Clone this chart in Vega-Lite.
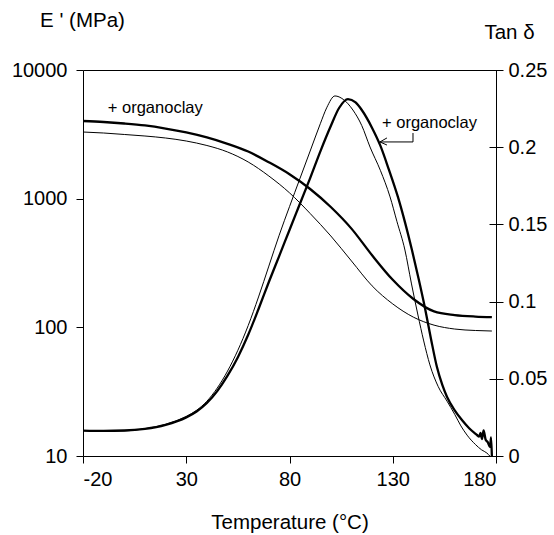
{
  "$schema": "https://vega.github.io/schema/vega-lite/v6.json",
  "autosize": {"type": "none"},
  "width": 413,
  "height": 386,
  "padding": {"left": 83, "top": 70, "right": 58, "bottom": 79},
  "background": "white",
  "config": {
    "font": "Liberation Sans",
    "view": {"stroke": "black", "strokeWidth": 1},
    "axis": {"grid": false, "domain": false, "tickColor": "black", "labelColor": "black", "titleColor": "black", "labelFont": "Liberation Sans", "titleFont": "Liberation Sans", "titleFontWeight": "normal", "labelFontSize": 20, "titleFontSize": 20.5}
  },
  "datasets": {
    "E": [
      {"s": "org", "T": -20, "v": 4014}, {"s": "org", "T": -10, "v": 3943}, {"s": "org", "T": 0, "v": 3839}, {"s": "org", "T": 10, "v": 3705}, {"s": "org", "T": 20, "v": 3508}, {"s": "org", "T": 30, "v": 3273}, {"s": "org", "T": 40, "v": 2992}, {"s": "org", "T": 50, "v": 2667}, {"s": "org", "T": 60, "v": 2323}, {"s": "org", "T": 70, "v": 1919}, {"s": "org", "T": 80, "v": 1549}, {"s": "org", "T": 90, "v": 1189}, {"s": "org", "T": 100, "v": 861}, {"s": "org", "T": 110, "v": 585}, {"s": "org", "T": 120, "v": 363}, {"s": "org", "T": 130, "v": 234}, {"s": "org", "T": 140, "v": 166}, {"s": "org", "T": 150, "v": 133}, {"s": "org", "T": 160, "v": 124.5}, {"s": "org", "T": 170, "v": 121.3}, {"s": "org", "T": 178, "v": 120.2},
      {"s": "neat", "T": -20, "v": 3297}, {"s": "neat", "T": -10, "v": 3238}, {"s": "neat", "T": 0, "v": 3154}, {"s": "neat", "T": 10, "v": 3069}, {"s": "neat", "T": 20, "v": 2961}, {"s": "neat", "T": 30, "v": 2806}, {"s": "neat", "T": 40, "v": 2590}, {"s": "neat", "T": 50, "v": 2306}, {"s": "neat", "T": 60, "v": 1928}, {"s": "neat", "T": 70, "v": 1500}, {"s": "neat", "T": 80, "v": 1110}, {"s": "neat", "T": 90, "v": 767}, {"s": "neat", "T": 100, "v": 513}, {"s": "neat", "T": 110, "v": 328}, {"s": "neat", "T": 120, "v": 210}, {"s": "neat", "T": 130, "v": 152}, {"s": "neat", "T": 140, "v": 120}, {"s": "neat", "T": 150, "v": 104}, {"s": "neat", "T": 160, "v": 97}, {"s": "neat", "T": 170, "v": 94.5}, {"s": "neat", "T": 178, "v": 93.6}
    ],
    "tan": [
      {"s": "org", "T": -20, "v": 0.0165}, {"s": "org", "T": -10, "v": 0.0163}, {"s": "org", "T": 0, "v": 0.0165}, {"s": "org", "T": 10, "v": 0.0176}, {"s": "org", "T": 20, "v": 0.0202}, {"s": "org", "T": 30, "v": 0.025}, {"s": "org", "T": 35, "v": 0.0288}, {"s": "org", "T": 40, "v": 0.0343}, {"s": "org", "T": 45, "v": 0.042}, {"s": "org", "T": 50, "v": 0.052}, {"s": "org", "T": 55, "v": 0.064}, {"s": "org", "T": 60, "v": 0.0785}, {"s": "org", "T": 65, "v": 0.0952}, {"s": "org", "T": 70, "v": 0.1127}, {"s": "org", "T": 75, "v": 0.1295}, {"s": "org", "T": 80, "v": 0.1464}, {"s": "org", "T": 85, "v": 0.1632}, {"s": "org", "T": 90, "v": 0.18}, {"s": "org", "T": 95, "v": 0.1975}, {"s": "org", "T": 100, "v": 0.2137}, {"s": "org", "T": 104, "v": 0.2254}, {"s": "org", "T": 108.3, "v": 0.2312}, {"s": "org", "T": 112, "v": 0.229}, {"s": "org", "T": 115, "v": 0.2241}, {"s": "org", "T": 120, "v": 0.2125}, {"s": "org", "T": 124, "v": 0.201}, {"s": "org", "T": 128, "v": 0.186}, {"s": "org", "T": 132.5, "v": 0.1678}, {"s": "org", "T": 136, "v": 0.151}, {"s": "org", "T": 139.3, "v": 0.1334}, {"s": "org", "T": 142.5, "v": 0.115}, {"s": "org", "T": 145.6, "v": 0.0959}, {"s": "org", "T": 148.5, "v": 0.076}, {"s": "org", "T": 151.4, "v": 0.0576}, {"s": "org", "T": 154, "v": 0.046}, {"s": "org", "T": 156.3, "v": 0.0382}, {"s": "org", "T": 160, "v": 0.0295}, {"s": "org", "T": 163.5, "v": 0.0233}, {"s": "org", "T": 167, "v": 0.018}, {"s": "org", "T": 170.8, "v": 0.0136}, {"s": "org", "T": 171.8, "v": 0.0125}, {"s": "org", "T": 172.5, "v": 0.015}, {"s": "org", "T": 173.2, "v": 0.011}, {"s": "org", "T": 174, "v": 0.0165}, {"s": "org", "T": 175, "v": 0.0105}, {"s": "org", "T": 176, "v": 0.009}, {"s": "org", "T": 177.1, "v": 0.0058}, {"s": "org", "T": 177.6, "v": 0.012}, {"s": "org", "T": 178, "v": 0.0},
      {"s": "neat", "T": -20, "v": 0.0165}, {"s": "neat", "T": -10, "v": 0.0162}, {"s": "neat", "T": 0, "v": 0.0163}, {"s": "neat", "T": 10, "v": 0.0177}, {"s": "neat", "T": 20, "v": 0.0205}, {"s": "neat", "T": 30, "v": 0.0256}, {"s": "neat", "T": 35, "v": 0.0296}, {"s": "neat", "T": 40, "v": 0.0355}, {"s": "neat", "T": 45, "v": 0.044}, {"s": "neat", "T": 50, "v": 0.055}, {"s": "neat", "T": 55, "v": 0.0685}, {"s": "neat", "T": 60, "v": 0.0845}, {"s": "neat", "T": 65, "v": 0.103}, {"s": "neat", "T": 70, "v": 0.123}, {"s": "neat", "T": 75, "v": 0.143}, {"s": "neat", "T": 80, "v": 0.1615}, {"s": "neat", "T": 85, "v": 0.1795}, {"s": "neat", "T": 90, "v": 0.1975}, {"s": "neat", "T": 95, "v": 0.2155}, {"s": "neat", "T": 98, "v": 0.2255}, {"s": "neat", "T": 102, "v": 0.2332}, {"s": "neat", "T": 106, "v": 0.231}, {"s": "neat", "T": 110.7, "v": 0.2241}, {"s": "neat", "T": 115, "v": 0.214}, {"s": "neat", "T": 119, "v": 0.2001}, {"s": "neat", "T": 124, "v": 0.185}, {"s": "neat", "T": 128.7, "v": 0.1678}, {"s": "neat", "T": 132, "v": 0.152}, {"s": "neat", "T": 135.9, "v": 0.1334}, {"s": "neat", "T": 139, "v": 0.112}, {"s": "neat", "T": 142.2, "v": 0.0913}, {"s": "neat", "T": 145, "v": 0.0745}, {"s": "neat", "T": 148, "v": 0.059}, {"s": "neat", "T": 152, "v": 0.045}, {"s": "neat", "T": 156.3, "v": 0.0355}, {"s": "neat", "T": 160, "v": 0.027}, {"s": "neat", "T": 163, "v": 0.0195}, {"s": "neat", "T": 166, "v": 0.0135}, {"s": "neat", "T": 170, "v": 0.0075}, {"s": "neat", "T": 173, "v": 0.004}, {"s": "neat", "T": 175.6, "v": 0.0019}, {"s": "neat", "T": 177, "v": 0.0}
    ],
    "arrow": [
      {"p": "shaft", "o": 1, "T": 139.8, "v": 0.2092}, {"p": "shaft", "o": 2, "T": 139.8, "v": 0.2034}, {"p": "shaft", "o": 3, "T": 123.8, "v": 0.2034},
      {"p": "head", "o": 1, "T": 127.2, "v": 0.206}, {"p": "head", "o": 2, "T": 123.8, "v": 0.2034}, {"p": "head", "o": 3, "T": 127.2, "v": 0.2014}
    ]
  },
  "encoding": {
    "x": {"field": "T", "type": "quantitative", "scale": {"domain": [-20, 180], "nice": false, "zero": false},
      "axis": {"values": [-20, 30, 80, 130, 180], "labelExpr": "'' + datum.value", "title": "Temperature (°C)", "tickSize": 7, "labelPadding": 6, "titleY": 66, "titleBaseline": "middle"}}
  },
  "layer": [
    {
      "layer": [
        {
          "data": {"name": "E"},
          "mark": {"type": "line", "interpolate": "monotone", "color": "black"},
          "encoding": {
            "y": {"field": "v", "type": "quantitative", "scale": {"type": "log", "domain": [10, 10000], "nice": false},
              "axis": {"values": [10, 100, 1000, 10000], "format": "d", "tickSize": 7, "labelPadding": 9, "title": "E ' (MPa)", "titleAngle": 0, "titleAlign": "center", "titleBaseline": "alphabetic", "titleX": -1, "titleY": -44}},
            "detail": {"field": "s"},
            "strokeWidth": {"field": "s", "type": "nominal", "scale": {"domain": ["org", "neat"], "range": [2.3, 1]}, "legend": null}
          }
        },
        {
          "data": {"values": [{"T": -8, "v": 5100, "t": "+ organoclay"}]},
          "mark": {"type": "text", "align": "left", "baseline": "middle", "fontSize": 16.5, "font": "Liberation Sans", "color": "black"},
          "encoding": {"y": {"field": "v", "type": "quantitative"}, "text": {"field": "t"}}
        }
      ]
    },
    {
      "layer": [
        {
          "data": {"name": "tan"},
          "mark": {"type": "line", "interpolate": "monotone", "color": "black"},
          "encoding": {
            "y": {"field": "v", "type": "quantitative", "scale": {"domain": [0, 0.25], "nice": false},
              "axis": {"orient": "right", "values": [0, 0.05, 0.1, 0.15, 0.2, 0.25], "format": "~g", "offset": -7, "tickSize": 14, "labelPadding": 5, "title": "Tan δ", "titleAngle": 0, "titleAlign": "center", "titleBaseline": "alphabetic", "titleX": 20, "titleY": -32}},
            "detail": {"field": "s"},
            "strokeWidth": {"field": "s", "type": "nominal", "scale": {"domain": ["org", "neat"], "range": [2.3, 1]}, "legend": null}
          }
        },
        {
          "data": {"name": "arrow"},
          "mark": {"type": "line", "color": "black", "strokeWidth": 1},
          "encoding": {"y": {"field": "v", "type": "quantitative"}, "detail": {"field": "p"}, "order": {"field": "o"}}
        },
        {
          "data": {"values": [{"T": 124.8, "v": 0.2157, "t": "+ organoclay"}]},
          "mark": {"type": "text", "align": "left", "baseline": "middle", "fontSize": 16.5, "font": "Liberation Sans", "color": "black"},
          "encoding": {"y": {"field": "v", "type": "quantitative"}, "text": {"field": "t"}}
        }
      ]
    }
  ],
  "resolve": {"scale": {"y": "independent", "strokeWidth": "shared"}}
}
